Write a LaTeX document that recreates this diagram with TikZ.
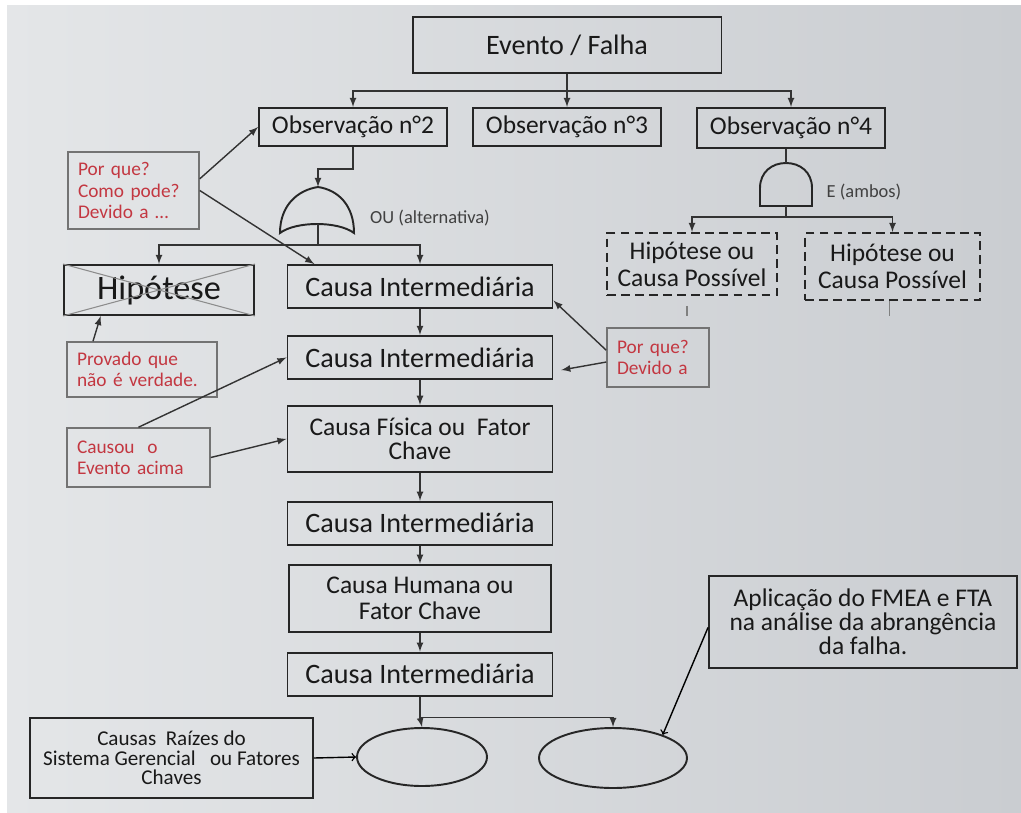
\documentclass[tikz,border=0pt]{standalone}
\usepackage{fontspec}
\setmainfont{Carlito}
\usepackage{xcolor}
\usepackage{tikz}
\usetikzlibrary{shapes,arrows,positioning}
\definecolor{whyred}{RGB}{195,55,65}
\definecolor{bgleft}{RGB}{228,230,232}
\definecolor{bgright}{RGB}{202,205,209}

\tikzset{
  box/.style={rectangle, draw=black!85, line width=1.1pt, text=black!90, align=center, inner sep=0pt},
  obsbox/.style={box, minimum width=3.76cm, minimum height=0.76cm, font=\fontsize{14.5}{16}\selectfont},
  cibox/.style={box, minimum width=5.3cm, minimum height=0.86cm, font=\fontsize{16}{18}\selectfont},
  hypbox/.style={box, dash pattern=on 5pt off 3pt, font=\fontsize{14.5}{15.3}\selectfont},
  redbox/.style={rectangle, draw=black!55, line width=0.9pt, text=whyred, align=left, inner xsep=0.2cm, inner ysep=0pt, font=\fontsize{11}{12}\selectfont},
  gatelabel/.style={text=black!75, font=\fontsize{10.5}{12}\selectfont},
  gate/.style={draw=black!85, line width=1.1pt},
  line/.style={draw=black!80, line width=0.8pt},
  arrow/.style={line, -latex},
  stub/.style={draw=black!50, line width=1pt},
  cross/.style={draw=black!45, line width=0.6pt}
}

\begin{document}
\begin{tikzpicture}[x=0.02cm, y=-0.02cm]
				% background
				\useasboundingbox (0,0) rectangle (1021,812);
				\fill[white] (0,0) rectangle (1021,812);
				\shade[left color=bgleft, right color=bgright] (7,5) rectangle (1021,812);

				% top of the tree
				\node[box, minimum width=6.18cm, minimum height=1.12cm, font=\fontsize{16}{18}\selectfont] (evento) at (567,45) {Evento / Falha};
				\node[obsbox] (obs2) at (353,127) {Observação n°2};
				\node[obsbox] (obs3) at (567,127) {Observação n°3};
				\node[obsbox, minimum height=0.8cm] (obs4) at (791,128) {Observação n°4};

				% gates
				\draw[gate] (280,233) .. controls (280,205) and (298,190) .. (318,187) .. controls (338,190) and (354,205) .. (354,233) .. controls (338,221) and (296,221) .. (280,233) -- cycle;
				\coordinate (ortop) at (318,187);
				\coordinate (orout) at (318,224);
				\node[gatelabel] (oulabel) at (430,218) {OU (alternativa)};
				\draw[gate] (760,206) -- (760,188) .. controls (760,172) and (772,163) .. (786,163) .. controls (800,163) and (812,172) .. (812,188) -- (812,206) -- cycle;
				\coordinate (andtop) at (786,163);
				\coordinate (andout) at (786,206);
				\node[gatelabel] (elabel) at (864,192) {E (ambos)};

				\node[hypbox, minimum width=3.4cm, minimum height=1.24cm] (hyp1) at (692,264) {Hipótese ou\\Causa Possível};
				\node[hypbox, minimum width=3.5cm, minimum height=1.34cm] (hyp2) at (892.5,266.5) {Hipótese ou\\Causa Possível};

				\node[box, minimum width=3.8cm, minimum height=1cm, font=\fontsize{19.5}{22}\selectfont] (hipotese) at (159,290) {Hipótese};
				\draw[cross] (hipotese.north west) -- (hipotese.south east) (hipotese.south west) -- (hipotese.north east);

				% main chain
				\node[cibox] (ci1) at (420,286.5) {Causa Intermediária};
				\node[cibox, below=0.52cm of ci1] (ci2) {Causa Intermediária};
				\node[box, minimum width=5.3cm, minimum height=1.32cm, font=\fontsize{14.5}{14.2}\selectfont, below=0.5cm of ci2] (fisica) {Causa Física ou~~Fator\\Chave};
				\node[cibox, below=0.56cm of fisica] (ci3) {Causa Intermediária};
				\node[box, minimum width=5.24cm, minimum height=1.34cm, font=\fontsize{14.5}{14.8}\selectfont, below=0.36cm of ci3] (humana) {Causa Humana ou\\Fator Chave};
				\node[cibox, below=0.38cm of humana] (ci4) {Causa Intermediária};

				% red notes
				\node[redbox, text width=2.22cm, minimum height=1.54cm] (porque) at (133.5,190.5) {Por que?\\Como pode?\\Devido a …};
				\node[redbox, text width=2.6cm, minimum height=1.1cm] (provado) at (142,369.5) {Provado que\\não é verdade.};
				\node[redbox, text width=2.46cm, minimum height=1.18cm] (causou) at (138.5,457.5) {Causou~~o\\Evento acima};
				\node[redbox, text width=1.64cm, minimum height=1.18cm] (devido) at (658,357.5) {Por que?\\Devido a};

				% bottom
				\node[box, minimum width=6.16cm, minimum height=1.84cm, font=\fontsize{14.5}{13.6}\selectfont] (fmea) at (863,622) {Aplicação do FMEA e FTA\\na análise da abrangência\\da falha.};
				\node[box, minimum width=5.66cm, minimum height=1.6cm, font=\fontsize{12}{11}\selectfont] (raizes) at (171.5,758) {Causas~~Raízes do\\Sistema Gerencial~~~ou Fatores\\Chaves};
				\node[ellipse, draw=black!85, line width=1.1pt, minimum width=2.6cm, minimum height=1.16cm, inner sep=0pt] (elipse1) at (422,757) {};
				\node[ellipse, draw=black!85, line width=1.1pt, minimum width=2.96cm, minimum height=1.2cm, inner sep=0pt] (elipse2) at (613,758) {};

				% connectors
				\draw[line] (evento.south) -- ++(0,17) coordinate (bus1);
				\draw[arrow] (bus1) -| (obs2.north);
				\draw[arrow] (bus1) -- (obs3.north);
				\draw[arrow] (bus1) -| (obs4.north);
				\draw[arrow] (obs2.south) -- ++(0,22) -| (ortop);
				\draw[line] (orout) -- ++(0,21) coordinate (bus2);
				\draw[arrow] (bus2) -| (hipotese.north);
				\draw[arrow] (bus2) -| (ci1.north);
				\draw[line] (obs4.south -| andtop) -- (andtop);
				\draw[line] (andout) -- ++(0,11) coordinate (bus4);
				\draw[arrow] (bus4) -| (hyp1.north);
				\draw[arrow] (bus4) -| (hyp2.north);
				\draw[stub] (hyp1.south) ++(-5,10) -- ++(0,10);
				\draw[stub] (hyp2.south) ++(-3,0) -- ++(0,15);

				\draw[arrow] (ci1) -- (ci2);
				\draw[arrow] (ci2) -- (fisica);
				\draw[arrow] (fisica) -- (ci3);
				\draw[arrow] (ci3) -- (humana);
				\draw[arrow] (humana) -- (ci4);

				\draw[arrow] (porque.10) -- (obs2.west);
				\draw[arrow] (porque.east) -- (ci1.168);
				\draw[arrow] (provado.150) -- (hipotese.204);
				\draw[arrow] (causou.north) -- (ci2.west);
				\draw[arrow] (causou.east) -- (fisica.west);
				\draw[arrow] (devido.172) -- (ci1.-6);
				\draw[arrow, shorten >=4.5pt] (devido.185) -- (ci2.-6);

				\draw[line] (ci4.south) -- ++(0,21) coordinate (bus3);
				\draw[arrow] (bus3) -- (elipse1.north);
				\draw[arrow] (bus3) -| (elipse2.north);
				\draw[->, thick] (raizes.east) -- (elipse1.west);
				\draw[->, thick] (fmea.182) -- (elipse2.25);
			\end{tikzpicture}
\end{document}
